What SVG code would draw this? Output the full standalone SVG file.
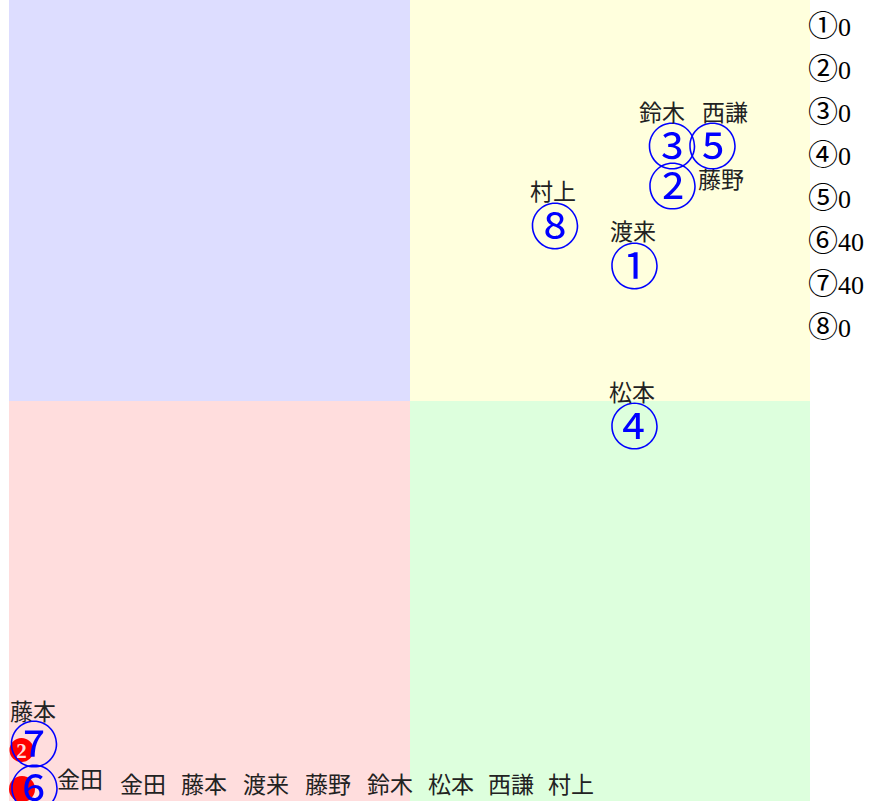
<svg xmlns="http://www.w3.org/2000/svg" width="875" height="801" viewBox="0 0 875 801">
<style>
.lbl{font-family:"Noto Sans CJK JP","Noto Sans CJK SC",sans-serif;font-size:23px;fill:#222;text-anchor:middle}
.num{font-family:"Noto Sans CJK JP","DejaVu Sans",sans-serif;font-size:50px;fill:#0000ff;text-anchor:middle;dominant-baseline:central}
.leg{font-family:"Liberation Serif","Noto Sans CJK JP",serif;font-size:26px;fill:#000}
.legc{font-family:"Noto Sans CJK JP","DejaVu Sans",sans-serif;font-size:30px}
.row{font-family:"Noto Sans CJK JP","Noto Sans CJK SC",sans-serif;font-size:23px;fill:#222}
</style>
<g id="quadrants">
<rect x="9" y="0" width="401" height="401" fill="#ddddff"/>
<rect x="410" y="0" width="400" height="401" fill="#ffffdd"/>
<rect x="9" y="401" width="401" height="400" fill="#ffdddd"/>
<rect x="410" y="401" width="400" height="400" fill="#ddffdd"/>
</g>
<g id="legend" class="leg">
<text x="808" y="36"><tspan class="legc">①</tspan>0</text>
<text x="808" y="79"><tspan class="legc">②</tspan>0</text>
<text x="808" y="122"><tspan class="legc">③</tspan>0</text>
<text x="808" y="165"><tspan class="legc">④</tspan>0</text>
<text x="808" y="208"><tspan class="legc">⑤</tspan>0</text>
<text x="808" y="251"><tspan class="legc">⑥</tspan>40</text>
<text x="808" y="294"><tspan class="legc">⑦</tspan>40</text>
<text x="808" y="337"><tspan class="legc">⑧</tspan>0</text>
</g>
<g id="connectors"></g>
<g id="marks">
<circle cx="22" cy="789" r="13" fill="#ff0000"/>
<circle cx="21.5" cy="750" r="12" fill="#ff0000"/>
<text x="21.5" y="757.5" font-family="Liberation Serif,serif" font-weight="bold" font-size="21" fill="#ffdddd" text-anchor="middle">2</text>
</g>
<g id="node1"><text class="num" x="634.5" y="262.5">①</text><text class="lbl" x="633" y="240">渡来</text></g>
<g id="node2"><text class="num" x="672.5" y="182.5">②</text><text class="lbl" x="721" y="188">藤野</text></g>
<g id="node3"><text class="num" x="672" y="143">③</text><text class="lbl" x="662" y="121">鈴木</text></g>
<g id="node4"><text class="num" x="634.5" y="422.5">④</text><text class="lbl" x="632" y="401">松本</text></g>
<g id="node5"><text class="num" x="712.5" y="143">⑤</text><text class="lbl" x="725" y="121">西謙</text></g>
<g id="node6"><text class="num" x="34.5" y="784.5">⑥</text><text class="lbl" x="80" y="788">金田</text></g>
<g id="node7"><text class="num" x="34" y="741">⑦</text><text class="lbl" x="33" y="720">藤本</text></g>
<g id="node8"><text class="num" x="555" y="222.5">⑧</text><text class="lbl" x="553" y="200">村上</text></g>
<g id="names" class="row">
<text x="120" y="793">金田</text>
<text x="181" y="793">藤本</text>
<text x="243" y="793">渡来</text>
<text x="305" y="793">藤野</text>
<text x="367" y="793">鈴木</text>
<text x="428" y="793">松本</text>
<text x="488" y="793">西謙</text>
<text x="548" y="793">村上</text>
</g>
</svg>
